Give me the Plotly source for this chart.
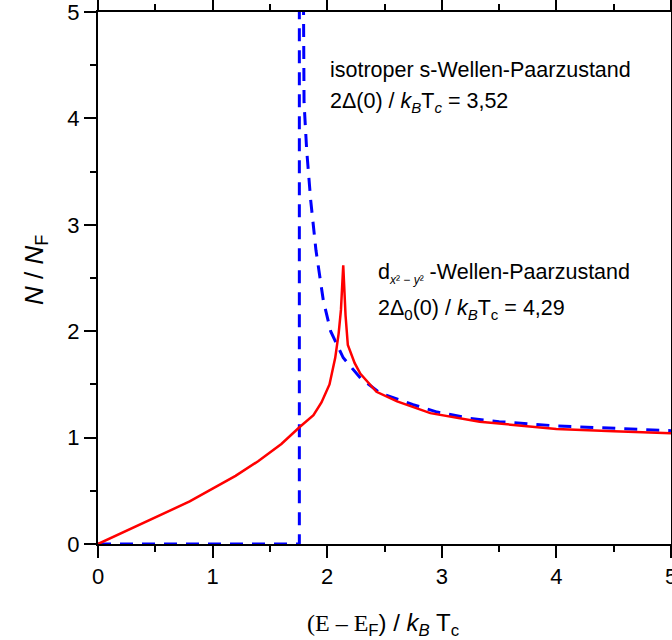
import plotly.graph_objects as go

# isotropic s-wave (blue dashed)
s_x = [0, 1.757, 1.757, None, 1.792, 1.798, 1.821, 1.856, 1.902, 1.966, 2.03, 2.14, 2.29, 2.46, 2.75, 2.96, 3.25, 3.5, 4.0, 4.5, 5.0]
s_y = [0, 0, 5.3, None, 5.3, 4.15, 3.70, 3.23, 2.76, 2.29, 2.0, 1.75, 1.56, 1.42, 1.31, 1.24, 1.18, 1.15, 1.11, 1.085, 1.065]

# d-wave (red solid)
d_x = [0, 0.1, 0.25, 0.45, 0.6, 0.8, 1.0, 1.2, 1.4, 1.6, 1.76, 1.88, 1.95, 2.02, 2.07, 2.10, 2.12, 2.135, 2.14, 2.145, 2.16, 2.18, 2.24, 2.29, 2.43, 2.61, 2.90, 3.33, 3.7, 4.0, 4.5, 5.0]
d_y = [0, 0.05, 0.13, 0.225, 0.30, 0.40, 0.52, 0.64, 0.78, 0.94, 1.10, 1.21, 1.33, 1.50, 1.75, 1.98, 2.2, 2.5, 2.62, 2.5, 2.15, 1.87, 1.70, 1.60, 1.43, 1.34, 1.23, 1.15, 1.11, 1.08, 1.06, 1.04]

ticks = [0, 1, 2, 3, 4, 5]

SANS = "Liberation Sans, Arial, sans-serif"

fig = go.Figure()
fig.add_trace(go.Scatter(x=s_x, y=s_y, mode="lines", connectgaps=False,
                         line=dict(color="#0000ff", width=3, dash="13px,9px"),
                         hoverinfo="skip", showlegend=False))
fig.add_trace(go.Scatter(x=d_x, y=d_y, mode="lines",
                         line=dict(color="#ff0000", width=2.5),
                         hoverinfo="skip", showlegend=False))

axis_common = dict(range=[0, 5], tickvals=ticks, showgrid=False, zeroline=False,
                   showline=True, linecolor="black", linewidth=2, mirror="ticks",
                   ticks="outside", ticklen=12, tickwidth=2, tickcolor="black",
                   automargin=False, ticklabeloverflow="allow",
                   minor=dict(dtick=0.5, ticks="outside", ticklen=6, tickwidth=2, tickcolor="black"),
                   tickfont=dict(family=SANS, size=22, color="black"))
fig.update_xaxes(**axis_common)
fig.update_yaxes(**axis_common)

ann_font = dict(family=SANS, size=21.5, color="black")
fig.add_annotation(x=2.007, y=4.455, xref="x", yref="y", xanchor="left", yanchor="middle",
                   text="isotroper s-Wellen-Paarzustand", showarrow=False, font=ann_font)
fig.add_annotation(x=2.007, y=4.154, xref="x", yref="y", xanchor="left", yanchor="middle",
                   text="2Δ(0) / <i>k</i><sub><i>B</i></sub>T<sub><i>c</i></sub> = 3,52", showarrow=False, font=ann_font)
fig.add_annotation(x=2.426, y=2.54, xref="x", yref="y", xanchor="left", yanchor="middle",
                   text="d<sub><span style='font-size:12px'><i>x</i>² − <i>y</i>²</span></sub> -Wellen-Paarzustand",
                   showarrow=False, font=ann_font)
fig.add_annotation(x=2.426, y=2.20, xref="x", yref="y", xanchor="left", yanchor="middle",
                   text="2Δ<sub>0</sub>(0) / <i>k</i><sub><i>B</i></sub>T<sub>c</sub> = 4,29", showarrow=False, font=ann_font)

# axis titles
fig.add_annotation(x=0.497, y=-0.152, xref="paper", yref="paper", xanchor="center", yanchor="middle",
                   text="<span style='font-family:Liberation Serif, Times New Roman, serif'>(E – E</span><sub>F</sub>) / <i>k</i><sub><i>B</i></sub> T<sub>c</sub>",
                   showarrow=False, font=dict(family=SANS, size=24, color="black"))
fig.add_annotation(x=-0.11, y=0.515, xref="paper", yref="paper", xanchor="center", yanchor="middle",
                   text="<i>N</i> / <i>N</i><sub>F</sub>", textangle=-90,
                   showarrow=False, font=dict(family=SANS, size=26, color="black"))

fig.update_layout(width=672, height=640, margin=dict(l=98, r=1, t=12, b=96, autoexpand=False),
                  plot_bgcolor="white", paper_bgcolor="white")

fig.write_html("out.html", config={"displayModeBar": False},
               post_script="document.body.style.margin='0';document.body.style.overflow='hidden';")
